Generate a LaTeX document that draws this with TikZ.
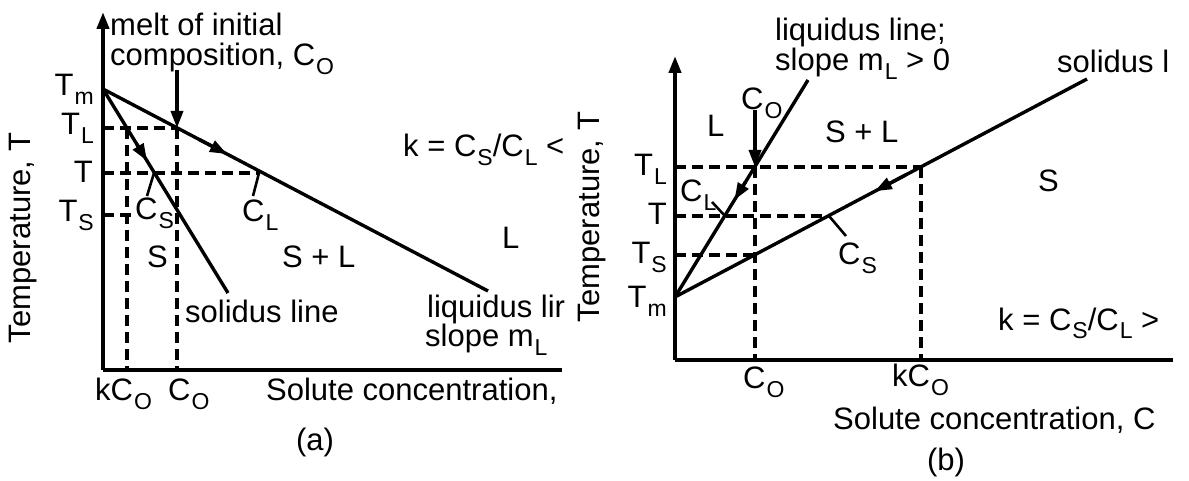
\documentclass[tikz,border=0pt]{standalone}
\usepackage{fontspec}
\setmainfont{Liberation Sans}
\usetikzlibrary{arrows.meta,calc}
\newcommand{\lowsub}[1]{\hspace{1pt}\raisebox{-9pt}{\fontsize{23}{23}\selectfont #1}}
\begin{document}
\begin{tikzpicture}[x=1pt,y=-1pt,font=\fontsize{31}{30}\selectfont,
  >={Triangle[length=17pt,width=12pt]},
  axis/.style={line width=4pt},
  curve/.style={line width=3.4pt},
  guide/.style={line width=3.4pt,dash pattern=on 11pt off 6pt},
  tick/.style={line width=2.6pt},
  lbl/.style={inner sep=0pt}]
\useasboundingbox (0,0) rectangle (1189,481);
% (a) k < 1
\coordinate (aO) at (103,370);
\coordinate (aTm) at (103,89);
\coordinate (aLiq) at (488,291);
\coordinate (aSol) at (228,293);
\coordinate (aTL) at (177,128);
\coordinate (aKL) at (127,128);
\coordinate (aCL) at (259,173);
\coordinate (aCS) at (154,173);
\draw[axis,->] (aO) -- (103,12);
\draw[axis] (aO) -- (562,370);
\draw[curve] (aTm) -- (aLiq);
\draw[curve] (aTm) -- (aSol);
\draw[guide] (103,128) -- (aTL) (103,173) -- (aCL) (103,215) -- (134,215);
\draw[guide] (aKL) -- (127,370) (aTL) -- (177,370);
\draw[curve,->] (177,70) -- (aTL);
\draw[curve,->] ($(aTm)!0.25!(aLiq)$) -- ($(aTm)!0.322!(aLiq)$);
\draw[curve,->] ($(aTm)!0.27!(aSol)$) -- ($(aTm)!0.352!(aSol)$);
\draw[tick] (aCL) -- (253,196) (aCS) -- (147,196);
\node[lbl,anchor=north west,align=left] (melt) at (110,13) {melt of initial\\composition, C\lowsub{O}};
\node[lbl,anchor=base east] (aTmL) at (94,96) {T\lowsub{m}};
\node[lbl,anchor=base east] (aTLL) at (94,135) {T\lowsub{L}};
\node[lbl,anchor=base east] (aTT) at (93,183) {T};
\node[lbl,anchor=base east] (aTSL) at (94,222) {T\lowsub{S}};
\node[lbl,anchor=base west] (aCLL) at (242,222) {C\lowsub{L}};
\node[lbl,anchor=base west] (aCSL) at (135,220) {C\lowsub{S}};
\node[lbl,anchor=base west] (aS) at (147,268) {S};
\node[lbl,anchor=base west] (aSL) at (282,268) {S + L};
\node[lbl,anchor=base west] (aL) at (502,248) {L};
\node[lbl,anchor=base west] (ak) at (403,157) {k = C\lowsub{S}/C\lowsub{L} <};
\node[lbl,anchor=base west] (asol) at (185,322) {solidus line};
\node[lbl,anchor=base west] (aliq) at (427,317) {liquidus lir};
\node[lbl,anchor=base west] (aslope) at (425,346) {slope m\lowsub{L}};
\node[lbl,anchor=base west] (akC) at (95,400) {kC\lowsub{O}};
\node[lbl,anchor=base west] (aC) at (168,400) {C\lowsub{O}};
\node[lbl,anchor=base west] (ax) at (266,400) {Solute concentration,};
\node[lbl,rotate=90] (ay) at (23,238) {Temperature, T};
\node[lbl] (acap) at (315,442) {(a)};
% (b) k > 1
\coordinate (bO) at (675,360);
\coordinate (bTm) at (675,297);
\coordinate (bLiq) at (808,80);
\coordinate (bSol) at (1087,79);
\coordinate (bTL) at (755,167);
\coordinate (bKL) at (921,167);
\coordinate (bCL) at (725,216);
\coordinate (bCS) at (829,216);
\coordinate (bTS) at (755,255);
\draw[axis,->] (bO) -- (675,56);
\draw[axis] (bO) -- (1173,360);
\draw[curve] (bTm) -- (bLiq);
\draw[curve] (bTm) -- (bSol);
\draw[guide] (675,167) -- (bKL) (675,216) -- (bCS) (675,255) -- (bTS);
\draw[guide] (bTL) -- (755,360) (bKL) -- (921,360);
\draw[curve,->] (755,110) -- (bTL);
\draw[curve,->] ($(bTm)!0.53!(bLiq)$) -- ($(bTm)!0.447!(bLiq)$);
\draw[curve,->] ($(bTm)!0.56!(bSol)$) -- ($(bTm)!0.485!(bSol)$);
\draw[tick] (bCL) -- (712,202) (bCS) -- (846,236);
\node[lbl,anchor=north west,align=left] (bliq) at (775,18) {liquidus line;\\slope m\lowsub{L} > 0};
\node[lbl,anchor=base west] (bsol) at (1057,73) {solidus l};
\node[lbl,anchor=base west] (bC0) at (741,110) {C\lowsub{O}};
\node[lbl,anchor=base east] (bTmL) at (667,307) {T\lowsub{m}};
\node[lbl,anchor=base east] (bTSL) at (667,264) {T\lowsub{S}};
\node[lbl,anchor=base east] (bTT) at (667,225) {T};
\node[lbl,anchor=base east] (bTLL) at (667,176) {T\lowsub{L}};
\node[lbl,anchor=base west] (bCLL) at (680,202) {C\lowsub{L}};
\node[lbl,anchor=base west] (bCSL) at (838,265) {C\lowsub{S}};
\node[lbl,anchor=base west] (bL) at (707,137) {L};
\node[lbl,anchor=base west] (bSL) at (825,143) {S + L};
\node[lbl,anchor=base west] (bS) at (1038,192) {S};
\node[lbl,anchor=base west] (bk) at (998,330) {k = C\lowsub{S}/C\lowsub{L} >};
\node[lbl,anchor=base west] (bC) at (743,388) {C\lowsub{O}};
\node[lbl,anchor=base west] (bkC) at (892,386) {kC\lowsub{O}};
\node[lbl,anchor=base west] (bx) at (833,429) {Solute concentration, C};
\node[lbl,rotate=90] (by) at (592,217) {Temperature, T};
\node[lbl] (bcap) at (946,462) {(b)};
\end{tikzpicture}
\end{document}
